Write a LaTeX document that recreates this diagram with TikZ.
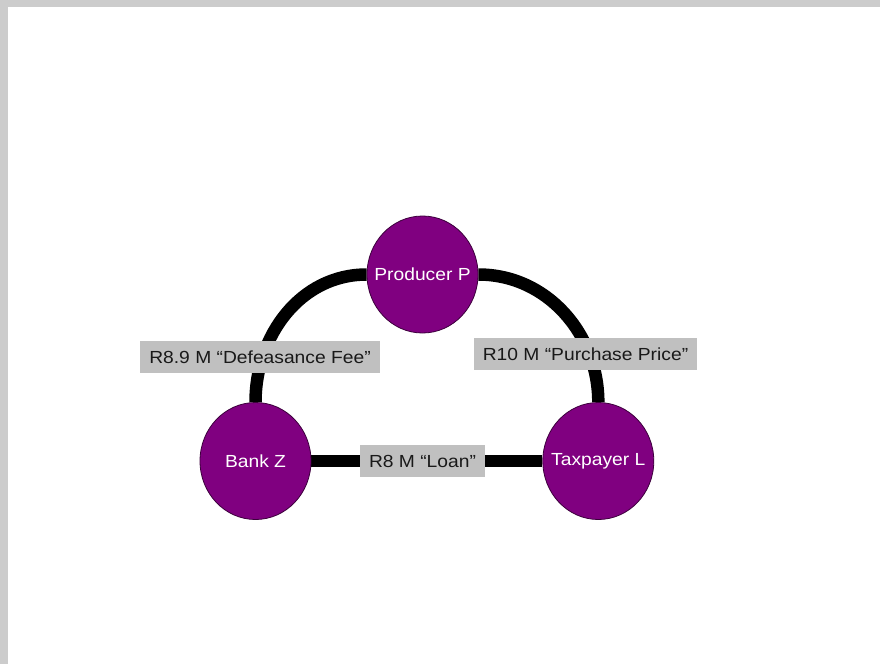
\documentclass[tikz,border=0pt]{standalone}
\usepackage{fontspec}
\setmainfont{Liberation Sans}[FakeStretch=1.1]
\usetikzlibrary{positioning,shapes.geometric,backgrounds}
\definecolor{partyfill}{RGB}{128,0,128}
\definecolor{partyline}{RGB}{60,0,60}
\definecolor{feegray}{RGB}{192,192,192}
\definecolor{pagegray}{RGB}{204,204,204}
\tikzset{
	party/.style={ellipse,draw=partyline,line width=0.8pt,fill=partyfill,
		inner sep=0pt,minimum width=111pt,minimum height=117pt,
		label={[text=white,font=\fontsize{17.5}{20}\selectfont]center:#1}},
	fee/.style={fill=feegray,text=black!90,inner xsep=9pt,inner ysep=0pt,
		minimum height=32pt,font=\fontsize{17.5}{20}\selectfont},
	wire/.style={line width=12.5pt,draw=black}
}

\begin{document}
\begin{tikzpicture}[x=1pt,y=-1pt,node distance=231pt and 231pt]
      \useasboundingbox (0,0) rectangle (880,664);
      \node [party={Bank Z}] (bank) at (255.5,461) {};
      \node [party={Taxpayer L}, right=of bank] (tax) {};
      \node [party={Producer P}] (prod) at (422.5,274.5) {};
      \begin{scope}[on background layer]
        \fill [pagegray] (0,0) rectangle (880,664);
        \fill [white] (8,7) rectangle (880,664);
        \draw [wire] (bank) -- (tax);
        \draw [wire] (prod) to[out=180,in=90] (bank);
        \draw [wire] (prod) to[out=0,in=90] (tax);
      \end{scope}
      \node [fee] (defeasance) at (260,357) {R8.9 M “Defeasance Fee”};
      \node [fee] (price) at (585.5,354) {R10 M “Purchase Price”};
      \node [fee] (loan) at (422.5,461) {R8 M “Loan”};
   \end{tikzpicture}
\end{document}
